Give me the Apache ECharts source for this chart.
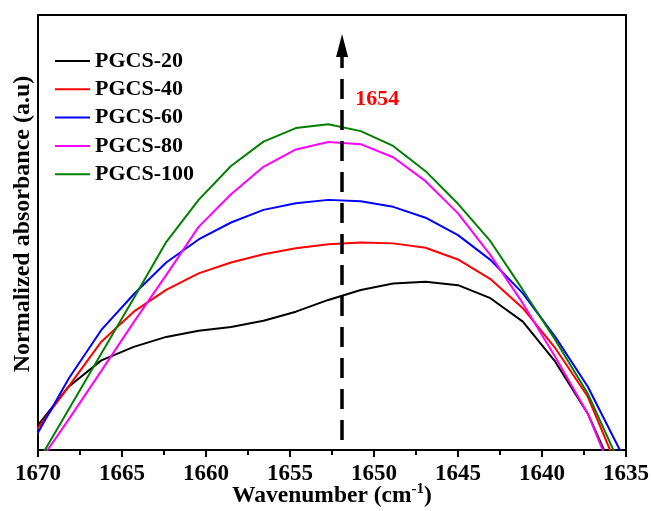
<!DOCTYPE html>
<html>
<head>
<meta charset="utf-8">
<script src="https://cdn.jsdelivr.net/npm/echarts@6/dist/echarts.min.js"></script>
<style>html,body{margin:0;padding:0;background:#fff}#c{width:651px;height:511px}</style>
</head>
<body>
<div id="c"></div>
<script>
const wavenumbers = [1670.09,1668.16,1666.23,1664.30,1662.37,1660.44,1658.51,1656.58,1654.65,1652.72,1650.79,1648.86,1646.93,1645.00,1643.07,1641.14,1639.21,1637.28,1635.35];
const seriesNames = ['PGCS-20','PGCS-40','PGCS-60','PGCS-80','PGCS-100'];
const seriesColors = ['#000000','#ff0000','#0000ff','#ff00ff','#008000'];
const pgcs20  = [0.053,0.146,0.206,0.237,0.260,0.274,0.283,0.297,0.318,0.345,0.368,0.383,0.387,0.379,0.349,0.295,0.203,0.084,-0.083];
const pgcs40  = [0.046,0.147,0.249,0.318,0.368,0.406,0.431,0.450,0.464,0.473,0.477,0.475,0.465,0.438,0.393,0.326,0.234,0.123,-0.055];
const pgcs60  = [0.034,0.165,0.276,0.358,0.431,0.484,0.523,0.552,0.567,0.575,0.572,0.559,0.534,0.494,0.437,0.360,0.260,0.146,-0.001];
const pgcs80  = [-0.037,0.071,0.182,0.294,0.402,0.513,0.588,0.651,0.691,0.708,0.703,0.673,0.618,0.544,0.448,0.337,0.214,0.084,-0.098];
const pgcs100 = [-0.033,0.094,0.222,0.349,0.478,0.575,0.653,0.709,0.740,0.749,0.733,0.699,0.641,0.566,0.480,0.368,0.253,0.130,-0.034];
const allValues = [pgcs20,pgcs40,pgcs60,pgcs80,pgcs100];
const xTicks = {min:1635, max:1670, interval:5};
const arrowX = 1651.9;
const arrowY = [0.023, 0.93];
const peakLabel = '1654';
const peakLabelPos = [1649.8, 0.807];
const xName = 'Wavenumber (cm{sup|-1})';
const yName = 'Normalized absorbance (a.u)';

const FONT = "'Liberation Serif','Times New Roman',serif";
const chart = echarts.init(document.getElementById('c'), null, {renderer:'canvas'});

const series = seriesNames.map((name,i)=>({
  name: name,
  type: 'line',
  data: wavenumbers.map((w,j)=>[w, allValues[i][j]]),
  showSymbol: false,
  symbol: 'none',
  lineStyle: {color: seriesColors[i], width: 2},
  itemStyle: {color: seriesColors[i]},
  clip: true,
  z: 2
}));

series.push({
  name: 'annot',
  type: 'line',
  data: [],
  silent: true,
  markLine: {
    silent: true,
    symbol: ['none','triangle'],
    symbolSize: [12, 23],
    lineStyle: {color:'#000', type:[20,11], width:3.5},
    itemStyle: {color:'#000'},
    label: {show:false},
    data: [[{coord:[arrowX, arrowY[0]]},{coord:[arrowX, arrowY[1]]}]]
  },
  markPoint: {
    silent: true,
    symbol: 'circle',
    symbolSize: 0,
    label: {show:true, position:'inside', formatter: peakLabel, color:'#ff0000', fontFamily: FONT, fontWeight:'bold', fontSize:22},
    data: [{coord: peakLabelPos}]
  }
});

chart.setOption({
  animation: false,
  backgroundColor: '#fff',
  grid: {left:38, right:25, top:15, bottom:61, show:true, borderColor:'#000', borderWidth:2, outerBoundsMode:'none', containLabel:false},
  legend: {
    data: seriesNames.map(n=>({name:n, icon:'rect'})),
    orient: 'vertical',
    left: 55, top: 50, padding: 0,
    itemWidth: 35, itemHeight: 2, itemGap: 6.3,
    textStyle: {fontFamily: FONT, fontWeight:'bold', fontSize:22, color:'#000', lineHeight:22}
  },
  xAxis: {
    type: 'value',
    inverse: true,
    min: xTicks.min, max: xTicks.max, interval: xTicks.interval,
    axisLine: {show:true, lineStyle:{color:'#000', width:2}},
    axisTick: {show:true, inside:false, length:7, lineStyle:{color:'#000', width:2}},
    minorTick: {show:true, splitNumber:2, length:5, lineStyle:{color:'#000', width:2}},
    splitLine: {show:false},
    axisLabel: {fontFamily: FONT, fontWeight:'bold', fontSize:23, color:'#000', margin:13, formatter: v => String(v)},
    name: xName,
    nameLocation: 'middle',
    nameGap: 32,
    nameMoveOverlap: false,
    nameTextStyle: {fontFamily: FONT, fontWeight:'bold', fontSize:23.5, color:'#000',
      rich: {sup: {fontFamily: FONT, fontWeight:'bold', fontSize:15, color:'#000', verticalAlign:'top', padding:[0,0,12,0]}}}
  },
  yAxis: {
    type: 'value',
    min: 0, max: 1,
    axisLine: {show:true, lineStyle:{color:'#000', width:2}},
    axisTick: {show:false},
    axisLabel: {show:false},
    splitLine: {show:false},
    name: yName,
    nameLocation: 'middle',
    nameGap: 3,
    nameMoveOverlap: false,
    nameTextStyle: {fontFamily: FONT, fontWeight:'bold', fontSize:24, color:'#000', padding:[0,0,0,17]}
  },
  series: series
});
</script>
</body>
</html>
